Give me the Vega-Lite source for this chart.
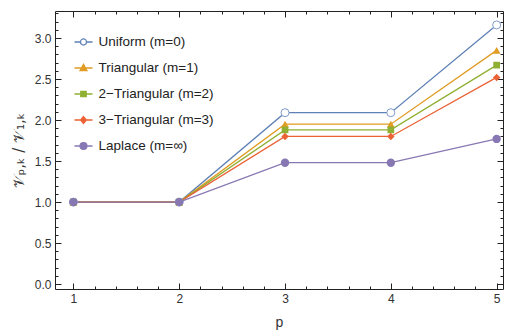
{
  "$schema": "https://vega.github.io/schema/vega-lite/v6.json",
  "width": 448,
  "height": 278,
  "autosize": "none",
  "padding": {"left": 55, "top": 11, "right": 2, "bottom": 44},
  "background": "white",
  "config": {
    "font": "Liberation Sans",
    "view": {"stroke": null},
    "axis": {"labelFont": "Liberation Sans", "titleFont": "Liberation Sans", "labelFontSize": 12, "labelColor": "#333", "titleColor": "#333", "titleFontWeight": "normal", "titleFontSize": 14, "domainColor": "#222", "tickColor": "#222", "grid": false, "labelOverlap": false, "labelFlush": false}
  },
  "data": {"values": [
    {"p": 1, "v": 1, "series": "Uniform (m=0)"},
    {"p": 2, "v": 1, "series": "Uniform (m=0)"},
    {"p": 3, "v": 2.09, "series": "Uniform (m=0)"},
    {"p": 4, "v": 2.09, "series": "Uniform (m=0)"},
    {"p": 5, "v": 3.16, "series": "Uniform (m=0)"},
    {"p": 1, "v": 1, "series": "Triangular (m=1)"},
    {"p": 2, "v": 1, "series": "Triangular (m=1)"},
    {"p": 3, "v": 1.95, "series": "Triangular (m=1)"},
    {"p": 4, "v": 1.95, "series": "Triangular (m=1)"},
    {"p": 5, "v": 2.85, "series": "Triangular (m=1)"},
    {"p": 1, "v": 1, "series": "2\u2212Triangular (m=2)"},
    {"p": 2, "v": 1, "series": "2\u2212Triangular (m=2)"},
    {"p": 3, "v": 1.88, "series": "2\u2212Triangular (m=2)"},
    {"p": 4, "v": 1.88, "series": "2\u2212Triangular (m=2)"},
    {"p": 5, "v": 2.67, "series": "2\u2212Triangular (m=2)"},
    {"p": 1, "v": 1, "series": "3\u2212Triangular (m=3)"},
    {"p": 2, "v": 1, "series": "3\u2212Triangular (m=3)"},
    {"p": 3, "v": 1.8, "series": "3\u2212Triangular (m=3)"},
    {"p": 4, "v": 1.8, "series": "3\u2212Triangular (m=3)"},
    {"p": 5, "v": 2.52, "series": "3\u2212Triangular (m=3)"},
    {"p": 1, "v": 1, "series": "Laplace (m=\u221e)"},
    {"p": 2, "v": 1, "series": "Laplace (m=\u221e)"},
    {"p": 3, "v": 1.48, "series": "Laplace (m=\u221e)"},
    {"p": 4, "v": 1.48, "series": "Laplace (m=\u221e)"},
    {"p": 5, "v": 1.77, "series": "Laplace (m=\u221e)"}
  ]},
  "resolve": {"axis": {"x": "independent", "y": "independent"}},
  "layer": [
    {
      "mark": {"type": "line", "strokeWidth": 1.3},
      "encoding": {
        "x": {"field": "p", "type": "quantitative", "scale": {"domain": [0.826, 5.06], "nice": false, "zero": false},
          "axis": {"orient": "bottom", "title": "p", "titlePadding": 8, "format": ".0f",
            "values": [1,1.2,1.4,1.6,1.8,2,2.2,2.4,2.6,2.8,3,3.2,3.4,3.6,3.8,4,4.2,4.4,4.6,4.8,5],
            "labelExpr": "abs(datum.value - round(datum.value)) < 1e-6 ? datum.label : ''",
            "tickSize": {"condition": {"test": "abs(datum.value - round(datum.value)) < 1e-6", "value": -6}, "value": -3},
            "labelPadding": 10}},
        "y": {"field": "v", "type": "quantitative", "scale": {"domain": [-0.06, 3.33], "nice": false, "zero": false},
          "axis": {"orient": "left", "title": "\ud835\udcb1\u209a,\u2096 / \ud835\udcb1\u2081,\u2096", "titlePadding": 8, "titleFont": "DejaVu Sans", "titleFontSize": 15,
            "values": [0,0.1,0.2,0.3,0.4,0.5,0.6,0.7,0.8,0.9,1,1.1,1.2,1.3,1.4,1.5,1.6,1.7,1.8,1.9,2,2.1,2.2,2.3,2.4,2.5,2.6,2.7,2.8,2.9,3,3.1,3.2,3.3],
            "format": ".1f",
            "labelExpr": "abs(datum.value*2 - round(datum.value*2)) < 1e-6 ? datum.label : ''",
            "tickSize": {"condition": {"test": "abs(datum.value*2 - round(datum.value*2)) < 1e-6", "value": -6}, "value": -3},
            "labelPadding": 10}},
        "color": {"field": "series", "type": "nominal", "sort": null,
          "scale": {"domain": ["Uniform (m=0)", "Triangular (m=1)", "2\u2212Triangular (m=2)", "3\u2212Triangular (m=3)", "Laplace (m=\u221e)"],
            "range": ["#5E81B5", "#E19C24", "#8FB032", "#EB6235", "#8778B3"]},
          "legend": {"orient": "none", "legendX": 18.5, "legendY": 21, "title": null, "padding": 0,
            "symbolSize": 324, "symbolStrokeWidth": 1.3, "symbolOpacity": 1, "labelFontSize": 13.5, "labelColor": "#222", "labelFont": "Liberation Sans", "labelOffset": 5, "rowPadding": 9,
            "encode": {"symbols": {"update": {
              "shape": {"signal": "datum.value === 'Uniform (m=0)' ? 'M-1,0H-0.34M0.34,0H1M-0.34,0A0.34,0.34 0 1,0 0.34,0A0.34,0.34 0 1,0 -0.34,0' : datum.value === 'Triangular (m=1)' ? 'M-1,0H1M0,-0.4L0.38,0.28L-0.38,0.28Z' : datum.value === 'Laplace (m=\u221e)' ? 'M-1,0H1M-0.38,0A0.38,0.38 0 1,0 0.38,0A0.38,0.38 0 1,0 -0.38,0' : indexof(datum.value, '2') === 0 ? 'M-1,0H1M-0.3,-0.3H0.3V0.3H-0.3Z' : 'M-1,0H1M0,-0.38L0.32,0L0,0.38L-0.32,0Z'"},
              "fill": {"signal": "datum.value === 'Uniform (m=0)' ? 'white' : scale('color', datum.value)"},
              "stroke": {"signal": "scale('color', datum.value)"},
              "strokeWidth": {"value": 1.3},
              "opacity": {"value": 1}
            }}}}
        }
      }
    },
    {
      "transform": [{"filter": "datum.series === 'Uniform (m=0)'"}],
      "mark": {"type": "point", "shape": "circle", "filled": false, "fill": "white", "size": 64, "strokeWidth": 1, "opacity": 1, "stroke": "#7F9CCB"},
      "encoding": {
        "x": {"field": "p", "type": "quantitative",
          "axis": {"orient": "top", "title": null, "labels": false,
            "values": [1,1.2,1.4,1.6,1.8,2,2.2,2.4,2.6,2.8,3,3.2,3.4,3.6,3.8,4,4.2,4.4,4.6,4.8,5],
            "tickSize": {"condition": {"test": "abs(datum.value - round(datum.value)) < 1e-6", "value": -6}, "value": -3}}},
        "y": {"field": "v", "type": "quantitative",
          "axis": {"orient": "right", "title": null, "labels": false,
            "values": [0,0.1,0.2,0.3,0.4,0.5,0.6,0.7,0.8,0.9,1,1.1,1.2,1.3,1.4,1.5,1.6,1.7,1.8,1.9,2,2.1,2.2,2.3,2.4,2.5,2.6,2.7,2.8,2.9,3,3.1,3.2,3.3],
            "tickSize": {"condition": {"test": "abs(datum.value*2 - round(datum.value*2)) < 1e-6", "value": -6}, "value": -3}}}
      }
    },
    {
      "transform": [{"filter": "datum.series === 'Triangular (m=1)'"}],
      "mark": {"type": "point", "shape": "triangle-up", "filled": true, "size": 60, "opacity": 1, "color": "#E19C24"},
      "encoding": {
        "x": {"field": "p", "type": "quantitative", "axis": null},
        "y": {"field": "v", "type": "quantitative", "axis": null}
      }
    },
    {
      "transform": [{"filter": "datum.series === '2\u2212Triangular (m=2)'"}],
      "mark": {"type": "point", "shape": "square", "filled": true, "size": 45, "opacity": 1, "color": "#8FB032"},
      "encoding": {
        "x": {"field": "p", "type": "quantitative", "axis": null},
        "y": {"field": "v", "type": "quantitative", "axis": null}
      }
    },
    {
      "transform": [{"filter": "datum.series === '3\u2212Triangular (m=3)'"}],
      "mark": {"type": "point", "shape": "diamond", "filled": true, "size": 55, "opacity": 1, "color": "#EB6235"},
      "encoding": {
        "x": {"field": "p", "type": "quantitative", "axis": null},
        "y": {"field": "v", "type": "quantitative", "axis": null}
      }
    },
    {
      "transform": [{"filter": "datum.series === 'Laplace (m=\u221e)'"}],
      "mark": {"type": "point", "shape": "circle", "filled": true, "size": 70, "opacity": 1, "color": "#8778B3"},
      "encoding": {
        "x": {"field": "p", "type": "quantitative", "axis": null},
        "y": {"field": "v", "type": "quantitative", "axis": null}
      }
    }
  ]
}
